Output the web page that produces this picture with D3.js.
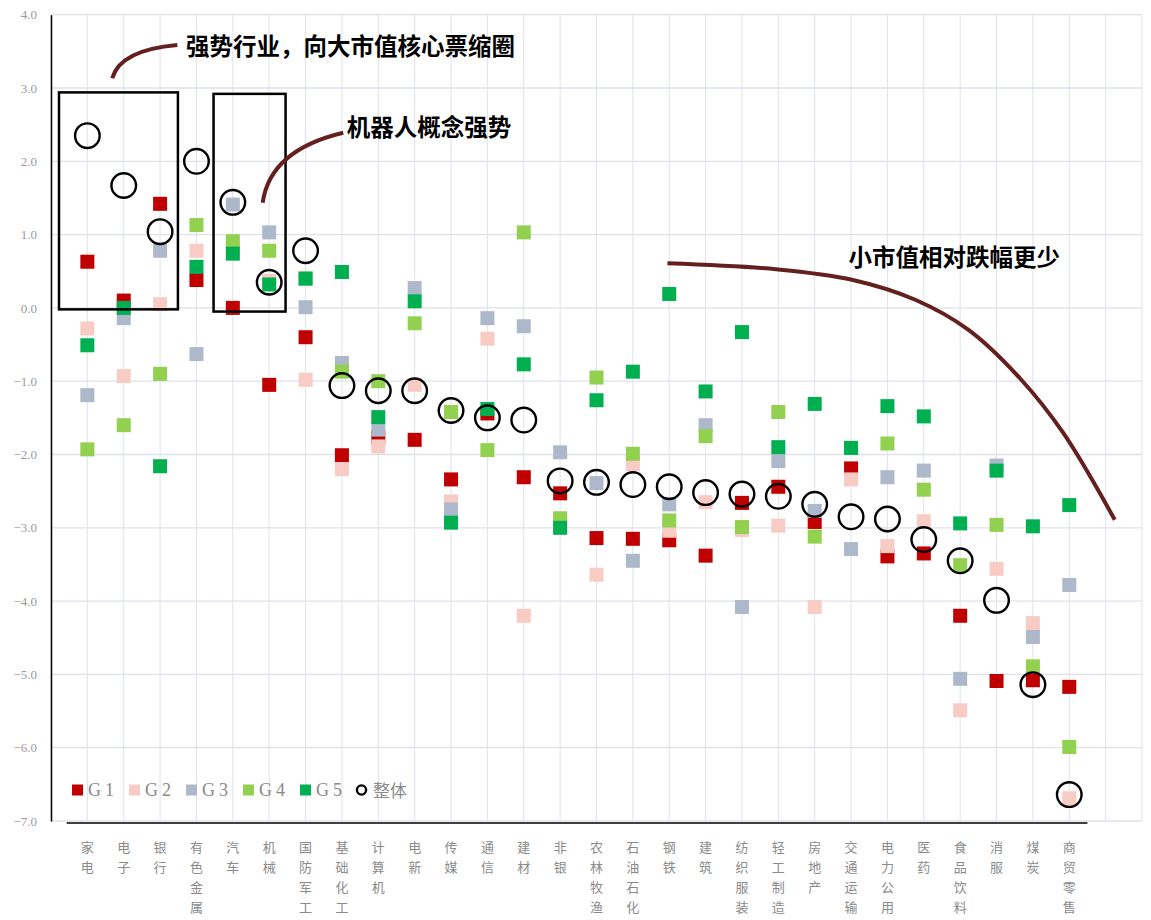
<!DOCTYPE html>
<html>
<head>
<meta charset="utf-8">
<script src="https://cdn.jsdelivr.net/npm/d3@7"></script>
<style>
  html, body { margin: 0; padding: 0; background: #fff; }
  svg { display: block; }
</style>
</head>
<body>
<svg id="chart" width="1151" height="920"></svg>
<script>
const categories = ["家电","电子","银行","有色金属","汽车","机械","国防军工","基础化工","计算机","电新","传媒","通信","建材","非银","农林牧渔","石油石化","钢铁","建筑","纺织服装","轻工制造","房地产","交通运输","电力公用","医药","食品饮料","消服","煤炭","商贸零售"];
const g1 = [0.63, 0.10, 1.42, 0.38, 0.00, -1.05, -0.40, -2.01, -1.77, -1.80, -2.34, -1.44, -2.31, -2.53, -3.14, -3.15, -3.17, -3.38, -2.66, -2.44, -2.92, -2.19, -3.39, -3.35, -4.20, -5.09, -5.08, -5.17];
const g2 = [-0.28, -0.93, 0.05, 0.78, 0.82, 0.37, -0.98, -2.20, -1.89, -1.05, -2.64, -0.42, -4.20, -2.95, -3.64, -2.13, -3.04, -2.65, -3.03, -2.97, -4.08, -2.34, -3.25, -2.91, -5.49, -3.56, -4.30, -6.69];
const g3 = [-1.19, -0.14, 0.78, -0.63, 1.41, 1.03, 0.01, -0.75, -1.66, 0.27, -2.75, -0.14, -0.25, -1.97, -2.39, -3.45, -2.68, -1.60, -4.08, -2.09, -2.77, -3.29, -2.31, -2.22, -5.06, -2.15, -4.49, -3.78];
const g4 = [-1.93, -1.60, -0.90, 1.13, 0.91, 0.78, 0.40, -0.87, -1.00, -0.21, -1.42, -1.94, 1.03, -2.87, -0.95, -1.99, -2.90, -1.75, -2.99, -1.42, -3.12, -1.91, -1.85, -2.48, -3.51, -2.96, -4.89, -5.99];
const g5 = [-0.51, 0.00, -2.16, 0.56, 0.74, 0.32, 0.40, 0.49, -1.49, 0.09, -2.93, -1.38, -0.77, -3.00, -1.26, -0.87, 0.19, -1.14, -0.33, -1.90, -1.31, -1.91, -1.34, -1.48, -2.94, -2.22, -2.98, -2.69];
const overall = [2.35, 1.67, 1.04, 2.00, 1.44, 0.35, 0.78, -1.06, -1.13, -1.13, -1.40, -1.50, -1.53, -2.36, -2.38, -2.41, -2.44, -2.52, -2.54, -2.57, -2.68, -2.85, -2.88, -3.16, -3.45, -3.99, -5.14, -6.64];
const seriesNames = ["G1","G2","G3","G4","G5"];
const yTicks = [4,3,2,1,0,-1,-2,-3,-4,-5,-6,-7];

// annotation geometry in data units (x = category index, y = value)
const box1 = {x0: 0.22, x1: 3.49, y0: 2.94, y1: -0.02};
const box2 = {x0: 4.47, x1: 6.45, y0: 2.92, y1: -0.05};
const curve1 = [[1.685, 3.132], [1.897, 3.518], [3.473, 3.587]];
const curve2 = [[5.821, 1.435], [6.021, 2.154], [8.037, 2.390]];
const curve3 = [[16.95, 0.608], [19.93, 0.527], [22.05, 0.381], [23.78, 0.108], [25.23, -0.30], [26.68, -0.98], [27.84, -1.71], [29.25, -2.89]];
const notes = [
  {text: "强势行业，向大市值核心票缩圈", x: 3.71, y: 3.587},
  {text: "机器人概念强势", x: 8.13, y: 2.482},
  {text: "小市值相对跌幅更少", x: 21.93, y: 0.708}
];

const colors = ["#c00000", "#f8cbc4", "#adb9ca", "#92d050", "#00b050"];
const series = [g1, g2, g3, g4, g5];

const svg = d3.select("#chart");
const x = d3.scaleLinear().domain([0, 30]).range([51, 1142]);
const y = d3.scaleLinear().domain([-7, 4]).range([821, 14.7]);

svg.append("rect").attr("width", 1151).attr("height", 920).attr("fill", "#fff");

// gridlines
const grid = svg.append("g");
grid.selectAll("line.v").data(d3.range(0, 31)).join("line")
  .attr("x1", d => x(d)).attr("x2", d => x(d))
  .attr("y1", y(4)).attr("y2", y(-7))
  .attr("stroke", "#dfe2eb").attr("stroke-width", 1);
grid.selectAll("line.h").data(yTicks).join("line")
  .attr("x1", x(0)).attr("x2", x(30))
  .attr("y1", d => y(d)).attr("y2", d => y(d))
  .attr("stroke", "#dfe2eb").attr("stroke-width", 1.3);

// y axis
const yAxis = d3.axisLeft(y).tickValues(yTicks).tickFormat(d3.format(".1f")).tickSize(0).tickPadding(14);
const ya = svg.append("g").attr("transform", `translate(${x(0)},0)`).call(yAxis);
ya.select(".domain").attr("stroke", "#000").attr("stroke-width", 1.5);
ya.selectAll("text").attr("font-family", "'Liberation Serif', 'DejaVu Serif', serif")
  .attr("font-size", 13).attr("fill", "#9a9a9a");

// x axis line (black)
svg.append("line")
  .attr("x1", x(0.43)).attr("x2", x(28.5))
  .attr("y1", y(-7) + 2).attr("y2", y(-7) + 2)
  .attr("stroke", "#000").attr("stroke-width", 1.5);

// squares
const S = 14;
series.forEach((vals, si) => {
  svg.append("g").selectAll("rect").data(vals).join("rect")
    .attr("x", (d, i) => x(i + 1) - S / 2)
    .attr("y", d => y(d) - S / 2)
    .attr("width", S).attr("height", S)
    .attr("fill", colors[si]);
});

// overall circles
svg.append("g").selectAll("circle").data(overall).join("circle")
  .attr("cx", (d, i) => x(i + 1)).attr("cy", d => y(d))
  .attr("r", 12.3).attr("fill", "none")
  .attr("stroke", "#000").attr("stroke-width", 2.4);

// boxes
[box1, box2].forEach(b => {
  svg.append("rect")
    .attr("x", x(b.x0)).attr("y", y(b.y0))
    .attr("width", x(b.x1) - x(b.x0)).attr("height", y(b.y1) - y(b.y0))
    .attr("fill", "none").attr("stroke", "#000").attr("stroke-width", 2.5);
});

// curves
const brown = "#63201f";
function quad(pts) {
  const p = d3.path();
  p.moveTo(x(pts[0][0]), y(pts[0][1]));
  p.quadraticCurveTo(x(pts[1][0]), y(pts[1][1]), x(pts[2][0]), y(pts[2][1]));
  return p.toString();
}
svg.append("path").attr("d", quad(curve1)).attr("fill", "none").attr("stroke", brown).attr("stroke-width", 4);
svg.append("path").attr("d", quad(curve2)).attr("fill", "none").attr("stroke", brown).attr("stroke-width", 4);
const line3 = d3.line().x(d => x(d[0])).y(d => y(d[1])).curve(d3.curveCatmullRom.alpha(0.5));
svg.append("path").attr("d", line3(curve3)).attr("fill", "none").attr("stroke", brown).attr("stroke-width", 4);

// annotation texts
svg.append("g").selectAll("text").data(notes).join("text")
  .attr("x", d => x(d.x)).attr("y", d => y(d.y))
  .attr("dominant-baseline", "central")
  .attr("font-family", "'Noto Sans CJK SC', sans-serif")
  .attr("font-weight", 700).attr("font-size", 23.5)
  .attr("fill", "#000")
  .text(d => d.text);

// category labels (vertical, one char per line)
const catG = svg.append("g");
categories.forEach((c, i) => {
  const t = catG.append("text")
    .attr("x", x(i + 1)).attr("text-anchor", "middle")
    .attr("font-family", "'Noto Sans CJK SC', sans-serif")
    .attr("font-size", 13).attr("fill", "#8a8a8a");
  Array.from(c).forEach((ch, k) => {
    t.append("tspan").attr("x", x(i + 1)).attr("y", 852 + k * 20).text(ch);
  });
});

// legend
const leg = svg.append("g");
seriesNames.forEach((n, i) => {
  const lx = 72 + i * 57;
  leg.append("rect").attr("x", lx).attr("y", 784.5).attr("width", 11).attr("height", 11).attr("fill", colors[i]);
  leg.append("text").attr("x", lx + 16).attr("y", 796)
    .attr("font-family", "'Liberation Serif', serif").attr("font-size", 18)
    .attr("letter-spacing", 4).attr("fill", "#8a8a8a").text(n);
});
leg.append("circle").attr("cx", 361.5).attr("cy", 790).attr("r", 4.6)
  .attr("fill", "none").attr("stroke", "#000").attr("stroke-width", 2.4);
leg.append("text").attr("x", 373).attr("y", 796.5)
  .attr("font-family", "'Noto Sans CJK SC', sans-serif").attr("font-size", 17)
  .attr("fill", "#8a8a8a").text("整体");
</script>
</body>
</html>
